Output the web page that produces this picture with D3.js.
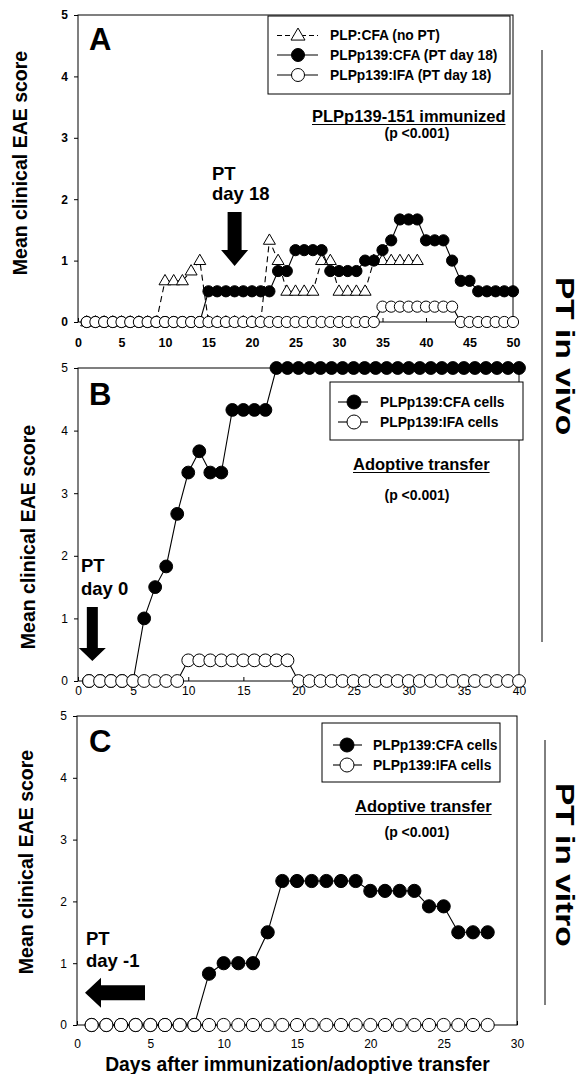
<!DOCTYPE html>
<html><head><meta charset="utf-8">
<script src="https://cdn.jsdelivr.net/npm/d3@7"></script>
<style>
body{margin:0;background:#fff}
svg{display:block}
text{font-family:'Liberation Sans',Arial,Helvetica,sans-serif;fill:#000}
</style>
</head><body>
<svg id="chart" width="581" height="1074"></svg>
<script>
// ---------------- DATA ----------------
// Panel A: PLPp139-151 immunized
const daysA = [1,2,3,4,5,6,7,8,9,10,11,12,13,14,15,16,17,18,19,20,21,22,23,24,25,26,27,28,29,30,31,32,33,34,35,36,37,38,39,40,41,42,43,44,45,46,47,48,49,50];
const daysA_noPT = [1,2,3,4,5,6,7,8,9,10,11,12,13,14,15,16,17,18,19,20,21,22,23,24,25,26,27,28,29,30,31,32,33,34,35,36,37,38,39];
const A_PLP_CFA_noPT = [0,0,0,0,0,0,0,0,0,0.67,0.67,0.67,0.83,1.0,0,0,0,0,0,0,0,1.33,1.0,0.5,0.5,0.5,0.5,1.0,1.0,0.5,0.5,0.5,0.5,1.0,1.0,1.0,1.0,1.0,1.0];
const A_PLPp139_CFA = [0,0,0,0,0,0,0,0,0,0,0,0,0,0,0.5,0.5,0.5,0.5,0.5,0.5,0.5,0.5,0.83,0.83,1.17,1.17,1.17,1.17,0.83,0.83,0.83,0.83,1.0,1.0,1.17,1.33,1.67,1.67,1.67,1.33,1.33,1.33,1.0,0.67,0.67,0.5,0.5,0.5,0.5,0.5];
const A_PLPp139_IFA = [0,0,0,0,0,0,0,0,0,0,0,0,0,0,0,0,0,0,0,0,0,0,0,0,0,0,0,0,0,0,0,0,0,0,0.25,0.25,0.25,0.25,0.25,0.25,0.25,0.25,0.25,0,0,0,0,0,0,0];
const xTicksA = [0,5,10,15,20,25,30,35,40,45,50];
const legendA = ["PLP:CFA (no PT)","PLPp139:CFA (PT day 18)","PLPp139:IFA (PT day 18)"];

// Panel B: adoptive transfer, PT in vivo day 0
const daysB = [1,2,3,4,5,6,7,8,9,10,11,12,13,14,15,16,17,18,19,20,21,22,23,24,25,26,27,28,29,30,31,32,33,34,35,36,37,38,39,40];
const B_CFA_cells = [0,0,0,0,0,1.0,1.5,1.83,2.67,3.33,3.67,3.33,3.33,4.33,4.33,4.33,4.33,5,5,5,5,5,5,5,5,5,5,5,5,5,5,5,5,5,5,5,5,5,5,5];
const B_IFA_cells = [0,0,0,0,0,0,0,0,0,0.33,0.33,0.33,0.33,0.33,0.33,0.33,0.33,0.33,0.33,0,0,0,0,0,0,0,0,0,0,0,0,0,0,0,0,0,0,0,0,0];
const xTicksB = [0,5,10,15,20,25,30,35,40];
const legendB = ["PLPp139:CFA cells","PLPp139:IFA cells"];

// Panel C: adoptive transfer, PT in vitro day -1
const daysC = [1,2,3,4,5,6,7,8,9,10,11,12,13,14,15,16,17,18,19,20,21,22,23,24,25,26,27,28];
const C_CFA_cells = [0,0,0,0,0,0,0,0,0.83,1.0,1.0,1.0,1.5,2.33,2.33,2.33,2.33,2.33,2.33,2.17,2.17,2.17,2.17,1.92,1.92,1.5,1.5,1.5];
const C_IFA_cells = [0,0,0,0,0,0,0,0,0,0,0,0,0,0,0,0,0,0,0,0,0,0,0,0,0,0,0,0];
const xTicksC = [0,5,10,15,20,25,30];
const legendC = ["PLPp139:CFA cells","PLPp139:IFA cells"];

const yTicks = [0,1,2,3,4,5];
const yTitle = "Mean clinical EAE score";
const xTitle = "Days after immunization/adoptive transfer";

// ---------------- DRAW ----------------
const svg = d3.select("#chart");

function trianglePath(s){ // s = half width
  const h = s*1.72;
  return `M0,${-h*0.62}L${s},${h*0.38}L${-s},${h*0.38}Z`;
}

function drawMarkers(g, x, y, days, vals, type, r){
  const pts = days.map((d,i)=>[d, vals[i]]);
  const line = d3.line().x(d=>x(d[0])).y(d=>y(d[1]));
  g.append("path").attr("d", line(pts)).attr("fill","none").attr("stroke","#000")
    .attr("stroke-width",1.1).attr("stroke-dasharray", type==="tri" ? "6,4" : null);
  const m = g.append("g");
  pts.forEach(p=>{
    if(type==="tri"){
      m.append("path").attr("d", trianglePath(r)).attr("transform",`translate(${x(p[0])},${y(p[1])})`)
        .attr("fill","#fff").attr("stroke","#000").attr("stroke-width",1);
    } else {
      m.append("circle").attr("cx",x(p[0])).attr("cy",y(p[1])).attr("r",r)
        .attr("fill", type==="filled" ? "#000" : "#fff").attr("stroke","#000").attr("stroke-width",1);
    }
  });
}

function panel(cfg){
  const x = d3.scaleLinear().domain(cfg.xDomain).range(cfg.xRange);
  const y = d3.scaleLinear().domain([0,5]).range(cfg.yRange);
  const g = svg.append("g");
  // frame
  g.append("rect").attr("x",cfg.xRange[0]).attr("y",cfg.yRange[1])
    .attr("width",cfg.xRange[1]-cfg.xRange[0]).attr("height",cfg.yRange[0]-cfg.yRange[1])
    .attr("fill","none").attr("stroke","#000").attr("stroke-width",1);
  // y axis
  const ya = g.append("g").attr("transform",`translate(${cfg.xRange[0]},0)`)
    .call(d3.axisLeft(y).tickValues(yTicks).tickSize(4).tickPadding(6).tickFormat(d3.format("d")));
  ya.select(".domain").remove();
  ya.selectAll("text").style("font-size","12px").style("font-weight",cfg.boldTicks?"bold":"normal")
    .style("font-family","'Liberation Sans',Arial,sans-serif");
  // x axis
  const xa = g.append("g").attr("transform",`translate(0,${cfg.yRange[0]})`)
    .call(d3.axisBottom(x).tickValues(cfg.xTicks).tickSizeInner(-4).tickSizeOuter(0).tickPadding(cfg.xPad));
  xa.select(".domain").remove();
  xa.selectAll("text").style("font-size",cfg.boldTicks?"12.5px":"12px").style("font-weight",cfg.boldTicks?"bold":"normal")
    .style("font-family","'Liberation Sans',Arial,sans-serif");
  // y title
  svg.append("text").attr("transform",`translate(${cfg.titleX},${cfg.titleY}) rotate(-90)`)
    .attr("text-anchor","middle").style("font-size","19.5px").style("font-weight","bold").text(yTitle);
  // series
  cfg.series.forEach(s=>drawMarkers(g, x, y, s.days, s.vals, s.type, s.r));
  // panel letter
  svg.append("text").attr("x",cfg.letterX).attr("y",cfg.letterY).style("font-size","31px").style("font-weight","bold").text(cfg.letter);
  // legend
  const L = cfg.legend;
  svg.append("rect").attr("x",L.x0).attr("y",L.y0).attr("width",L.x1-L.x0).attr("height",L.y1-L.y0)
    .attr("fill","#fff").attr("stroke","#000").attr("stroke-width",1);
  L.items.forEach((it,i)=>{
    const cy = L.rows[i];
    svg.append("line").attr("x1",L.lx0).attr("x2",L.lx1).attr("y1",cy).attr("y2",cy)
      .attr("stroke","#000").attr("stroke-width",1.1).attr("stroke-dasharray", it.type==="tri"?"5,3":null);
    if(it.type==="tri"){
      svg.append("path").attr("d",trianglePath(7)).attr("transform",`translate(${L.mx},${cy})`)
        .attr("fill","#fff").attr("stroke","#000");
    } else {
      svg.append("circle").attr("cx",L.mx).attr("cy",cy).attr("r",L.r)
        .attr("fill", it.type==="filled"?"#000":"#fff").attr("stroke","#000");
    }
    svg.append("text").attr("x",L.tx).attr("y",cy+4.8).style("font-size","13.8px").style("font-weight","bold").text(it.label);
  });
  // underlined caption
  const cap = svg.append("text").attr("x",cfg.cap.x).attr("y",cfg.cap.y).style("font-size","16.5px").style("font-weight","bold").text(cfg.cap.text);
  const w = cap.node().getComputedTextLength();
  svg.append("line").attr("x1",cfg.cap.x).attr("x2",cfg.cap.x+w).attr("y1",cfg.cap.y+2.5).attr("y2",cfg.cap.y+2.5).attr("stroke","#000").attr("stroke-width",1.2);
  svg.append("text").attr("x",cfg.p.x).attr("y",cfg.p.y).attr("text-anchor","middle").style("font-size","14px").style("font-weight","bold").text("(p <0.001)");
  // PT label
  svg.append("text").attr("x",cfg.pt.x).attr("y",cfg.pt.y1).style("font-size","18.5px").style("font-weight","bold").text("PT");
  svg.append("text").attr("x",cfg.pt.x).attr("y",cfg.pt.y2).style("font-size","18.5px").style("font-weight","bold").text(cfg.pt.text);
  return {x,y};
}

// Panel A
const pA = panel({
  xDomain:[0,50], xRange:[78,513], yRange:[322,15], xTicks:xTicksA, xPad:16, boldTicks:true,
  titleX:27, titleY:163, letter:"A", letterX:89, letterY:50,
  series:[
    {days:daysA_noPT, vals:A_PLP_CFA_noPT, type:"tri", r:6},
    {days:daysA, vals:A_PLPp139_CFA, type:"filled", r:5.6},
    {days:daysA, vals:A_PLPp139_IFA, type:"open", r:5.6}
  ],
  legend:{x0:268,x1:510,y0:16,y1:94,rows:[35.5,55,75],lx0:277,lx1:318,mx:298,r:6.5,tx:330,
    items:[{type:"tri",label:legendA[0]},{type:"filled",label:legendA[1]},{type:"open",label:legendA[2]}]},
  cap:{x:312,y:122,text:"PLPp139-151 immunized"}, p:{x:417,y:138},
  pt:{x:212,y1:180,y2:200,text:"day 18"}
});
// arrow A (down) at day 18
(function(){
  const cx = pA.x(18);
  svg.append("path").attr("d",`M${cx-7},212L${cx+7},212L${cx+7},250L${cx+13.5},250L${cx},266L${cx-13.5},250L${cx-7},250Z`).attr("fill","#000");
})();

// Panel B
const pB = panel({
  xDomain:[0,40], xRange:[78,519], yRange:[681,368], xTicks:xTicksB, xPad:5.5, boldTicks:false,
  titleX:35, titleY:537, letter:"B", letterX:89, letterY:405,
  series:[
    {days:daysB, vals:B_CFA_cells, type:"filled", r:6.4},
    {days:daysB, vals:B_IFA_cells, type:"open", r:6.4}
  ],
  legend:{x0:330,x1:523,y0:382,y1:440,rows:[402,422],lx0:338,lx1:368,mx:354,r:7,tx:380,
    items:[{type:"filled",label:legendB[0]},{type:"open",label:legendB[1]}]},
  cap:{x:353,y:470,text:"Adoptive transfer"}, p:{x:417,y:500},
  pt:{x:81,y1:572,y2:595,text:"day 0"}
});
(function(){
  const cx = pB.x(1.3);
  svg.append("path").attr("d",`M${cx-5.5},607L${cx+5.5},607L${cx+5.5},648L${cx+13.5},648L${cx},661L${cx-13.5},648L${cx-5.5},648Z`).attr("fill","#000");
})();

// Panel C
const pC = panel({
  xDomain:[0,30], xRange:[77,517], yRange:[1025,716], xTicks:xTicksC, xPad:14.5, boldTicks:false,
  titleX:33, titleY:862, letter:"C", letterX:89, letterY:752,
  series:[
    {days:daysC, vals:C_CFA_cells, type:"filled", r:6.6},
    {days:daysC, vals:C_IFA_cells, type:"open", r:6.6}
  ],
  legend:{x0:322,x1:500,y0:723,y1:782,rows:[745,765],lx0:333,lx1:362,mx:347,r:7,tx:373,
    items:[{type:"filled",label:legendC[0]},{type:"open",label:legendC[1]}]},
  cap:{x:355,y:812,text:"Adoptive transfer"}, p:{x:417,y:837},
  pt:{x:86,y1:945,y2:967,text:"day -1"}
});
(function(){
  const tx = 85, cy = pC.y(0.52);
  svg.append("path").attr("d",`M${tx},${cy}L${tx+16},${cy-15}L${tx+16},${cy-7.5}L145,${cy-7.5}L145,${cy+7.5}L${tx+16},${cy+7.5}L${tx+16},${cy+15}Z`).attr("fill","#000");
})();

// x title
svg.append("text").attr("x",297.5).attr("y",1071).attr("text-anchor","middle")
  .style("font-size","19.3px").style("font-weight","bold").text(xTitle);

// right side labels
svg.append("line").attr("x1",542).attr("x2",542).attr("y1",50).attr("y2",642).attr("stroke","#000").attr("stroke-width",1);
svg.append("text").attr("transform","translate(556,277) rotate(90) scale(1,0.76)")
  .style("font-size","33.5px").style("font-weight","bold").text("PT in vivo");
svg.append("line").attr("x1",545).attr("x2",545).attr("y1",740).attr("y2",1005).attr("stroke","#000").attr("stroke-width",1);
svg.append("text").attr("transform","translate(556,783) rotate(90) scale(1,0.76)")
  .style("font-size","33.5px").style("font-weight","bold").text("PT in vitro");
</script>
</body></html>
